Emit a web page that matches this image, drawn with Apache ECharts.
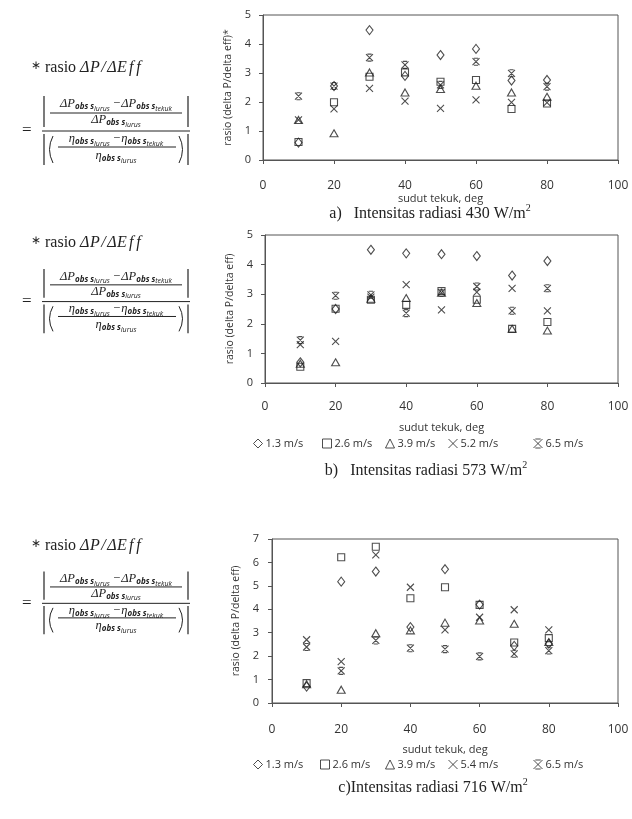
<!DOCTYPE html>
<html>
<head>
<meta charset="utf-8">
<script src="https://cdn.jsdelivr.net/npm/echarts@6/dist/echarts.min.js"></script>
<style>
html, body { margin: 0; padding: 0; background: #fff; }
#chart { width: 632px; height: 819px; }
</style>
</head>
<body>
<div id="chart"></div>
<script>
// bend angle (deg) on the x axis, same for all three panels
const angles = [10, 20, 30, 40, 50, 60, 70, 80]
const speedsAB = ['1.3 m/s', '2.6 m/s', '3.9 m/s', '5.2 m/s', '6.5 m/s']
const speedsC = ['1.3 m/s', '2.6 m/s', '3.9 m/s', '5.4 m/s', '6.5 m/s']
const yMaxA = 5
const yMaxB = 5
const yMaxC = 7

// a) 430 W/m2
const a13 = [0.6, 2.55, 4.48, 2.9, 3.62, 3.83, 2.74, 2.76]
const a26 = [0.62, 1.99, 2.87, 3.02, 2.7, 2.76, 1.76, 1.95]
const a39 = [1.38, 0.92, 3.02, 2.33, 2.45, 2.56, 2.33, 2.18]
const a52 = [1.38, 1.76, 2.47, 2.03, 1.78, 2.07, 1.99, 1.98]
const a65 = [2.2, 2.55, 3.53, 3.28, 2.59, 3.39, 2.99, 2.53]

// b) 573 W/m2
const b13 = [0.7, 2.5, 4.5, 4.38, 4.35, 4.29, 3.63, 4.12]
const b26 = [0.55, 2.51, 2.81, 2.64, 3.11, 2.81, 1.83, 2.06]
const b39 = [0.65, 0.7, 2.85, 2.87, 3.05, 2.7, 1.83, 1.77]
const b52 = [1.3, 1.41, 2.9, 3.32, 2.47, 3.07, 3.2, 2.44]
const b65 = [1.45, 2.95, 2.98, 2.36, 3.05, 3.26, 2.44, 3.2]

// c) 716 W/m2
const c13 = [0.7, 5.18, 5.61, 3.24, 5.71, 4.2, 2.44, 2.53]
const c26 = [0.85, 6.22, 6.67, 4.47, 4.94, 4.19, 2.58, 2.77]
const c39 = [0.8, 0.57, 2.98, 3.1, 3.43, 3.52, 3.38, 2.6]
const c54 = [2.7, 1.77, 6.32, 4.94, 3.12, 3.66, 3.98, 3.12]
const c65 = [2.39, 1.37, 2.67, 2.34, 2.3, 1.99, 2.1, 2.24]

const ink = '#222'
const markers = [
  { symbol: 'diamond', size: [7, 9] },
  { symbol: 'rect', size: [7, 7] },
  { symbol: 'triangle', size: [8, 7] },
  { symbol: 'path://M0,0L10,10M10,0L0,10', size: [7, 7] },
  { symbol: 'path://M0,0L10,10M10,0L0,10M2,0L8,0M2,10L8,10', size: [7, 7] }
]

function makeSeries(groups, names, gridIndex) {
  return groups.map((vals, i) => ({
    name: names[i],
    type: 'scatter',
    xAxisIndex: gridIndex,
    yAxisIndex: gridIndex,
    symbol: markers[i].symbol,
    symbolSize: markers[i].size,
    itemStyle: { color: 'transparent', borderColor: ink, borderWidth: 1.1 },
    data: angles.map((x, j) => [x, vals[j]])
  }))
}

// ---- text helpers for the formulas and captions ----
const measureCtx = document.createElement('canvas').getContext('2d')

function fontStr(p) {
  return (p.it ? 'italic ' : '') + (p.b ? 'bold ' : '') + p.s + 'px ' + p.ff
}

function runText(parts, x, y, align) {
  let w = 0
  parts.forEach(p => {
    measureCtx.font = fontStr(p)
    p.w = measureCtx.measureText(p.t).width
    w += p.w + (p.gap || 0)
  })
  let cx = align === 'center' ? x - w / 2 : x
  const out = []
  parts.forEach(p => {
    out.push({
      type: 'text',
      x: cx,
      y: y + (p.dy || 0),
      silent: true,
      style: {
        text: p.t,
        font: fontStr(p),
        fill: ink,
        textAlign: 'left',
        textVerticalAlign: 'middle'
      }
    })
    cx += p.w + (p.gap || 0)
  })
  return out
}

const SERIF = '"Liberation Serif"'
const SANS = '"Open Sans"'
const M = { s: 12.5, ff: SERIF, it: true }
const S = { s: 8, ff: SANS, it: true, b: true, dy: 3 }
const SS = { s: 7, ff: SANS, it: true, dy: 5 }

function sym(head, tail) {
  return [{ t: head, ...M }, { t: 'obs s', ...S }, { t: tail, ...SS }]
}

function hline(x1, x2, y) {
  return { type: 'line', silent: true, shape: { x1, y1: y, x2, y2: y }, style: { stroke: ink, lineWidth: 1 } }
}

function vline(x, y1, y2) {
  return { type: 'line', silent: true, shape: { x1: x, y1, x2: x, y2 }, style: { stroke: ink, lineWidth: 1.2 } }
}

function paren(x, y1, y2, dir) {
  return {
    type: 'bezierCurve', silent: true,
    shape: { x1: x, y1, x2: x, y2, cpx1: x - dir * 7, cpy1: (y1 + y2) / 2 },
    style: { stroke: ink, lineWidth: 1, fill: 'none' }
  }
}

function formulaBlock(y0, k) {
  const cx = 116
  const title = [
    { t: '\u2217', s: 12, ff: SERIF, dy: -2 },
    { t: ' rasio ', s: 16, ff: SERIF },
    { t: '\u0394', s: 16, ff: SERIF, it: true, gap: 0.5 },
    { t: 'P', s: 16, ff: SERIF, it: true, gap: 1.5 },
    { t: '/', s: 16, ff: SERIF, it: true, gap: 1.5 },
    { t: '\u0394', s: 16, ff: SERIF, it: true, gap: 0.5 },
    { t: 'E', s: 16, ff: SERIF, it: true, gap: 2 },
    { t: 'f', s: 16, ff: SERIF, it: true, gap: 3 },
    { t: 'f', s: 16, ff: SERIF, it: true }
  ]
  return [
    ...runText(title, 31, y0, 'left'),
    ...runText([{ t: '=', s: 17, ff: SERIF }], 22, y0 + 63 * k, 'left'),
    ...runText([...sym('\u0394P', 'lurus'), ...sym(' \u2212\u0394P', 'tekuk')], cx, y0 + 36 * k, 'center'),
    hline(50, 182, y0 + 45 * k),
    ...runText(sym('\u0394P', 'lurus'), cx, y0 + 52 * k, 'center'),
    vline(44, y0 + 28 * k, y0 + 59 * k),
    vline(188, y0 + 28 * k, y0 + 59 * k),
    hline(42, 190, y0 + 63 * k),
    ...runText([...sym('\u03B7', 'lurus'), ...sym(' \u2212\u03B7', 'tekuk')], cx, y0 + 71 * k, 'center'),
    hline(58, 176, y0 + 79 * k),
    ...runText(sym('\u03B7', 'lurus'), cx, y0 + 88 * k, 'center'),
    vline(44, y0 + 66 * k, y0 + 97 * k),
    vline(188, y0 + 66 * k, y0 + 97 * k),
    paren(53, y0 + 68 * k, y0 + 95 * k, 1),
    paren(179, y0 + 68 * k, y0 + 95 * k, -1)
  ]
}

function caption(label, text, x, y) {
  return runText([
    { t: label, s: 16, ff: SERIF },
    { t: text, s: 16, ff: SERIF },
    { t: '2', s: 10, ff: SERIF, dy: -6 }
  ], x, y, 'center')
}

// ---- axes ----
function xAxisFor(gridIndex, nameGap, margin) {
  return {
    gridIndex, type: 'value', min: 0, max: 100, interval: 20,
    name: 'sudut tekuk, deg', nameLocation: 'middle', nameGap,
    nameTextStyle: { fontFamily: SANS, fontSize: 11, color: '#333' },
    axisLine: { lineStyle: { color: '#555' } },
    axisTick: { show: true, length: 4, lineStyle: { color: '#555' } },
    splitLine: { show: false },
    axisLabel: { fontFamily: SANS, fontSize: 12, color: '#333', margin }
  }
}

function yAxisFor(gridIndex, max, name, nameGap, margin) {
  return {
    gridIndex, type: 'value', min: 0, max, interval: 1,
    name, nameLocation: 'middle', nameGap,
    nameTextStyle: { fontFamily: SANS, fontSize: 10.5, color: '#333' },
    axisLine: { show: true, lineStyle: { color: '#555' } },
    axisTick: { show: true, length: 4, lineStyle: { color: '#555' } },
    splitLine: { show: false },
    axisLabel: { fontFamily: SANS, fontSize: 11, color: '#333', margin }
  }
}

function legendsFor(names, lefts, top) {
  return names.map((n, i) => ({
    data: [n], left: lefts[i], top,
    itemWidth: 9, itemHeight: 9, itemGap: 0,
    itemStyle: { borderWidth: 1 },
    textStyle: { fontFamily: SANS, fontSize: 11, color: '#333', padding: [0, 0, 0, -2] }
  }))
}

const chart = echarts.init(document.getElementById('chart'), null, { renderer: 'canvas' })

chart.setOption({
  animation: false,
  backgroundColor: '#fff',
  grid: [
    { left: 263, top: 15, width: 355, height: 145, show: true, borderColor: '#555', borderWidth: 1 },
    { left: 265, top: 235, width: 353, height: 148, show: true, borderColor: '#555', borderWidth: 1 },
    { left: 272, top: 539, width: 346, height: 164, show: true, borderColor: '#555', borderWidth: 1 }
  ],
  xAxis: [xAxisFor(0, 26, 20), xAxisFor(1, 39, 18), xAxisFor(2, 41, 21)],
  yAxis: [
    yAxisFor(0, yMaxA, 'rasio (delta P/delta eff)*', 24, 12),
    yAxisFor(1, yMaxB, 'rasio (delta P/delta eff)', 22, 12),
    yAxisFor(2, yMaxC, 'rasio (delta P/delta eff)', 22, 13)
  ],
  legend: [
    ...legendsFor(speedsAB, [248, 317, 380, 443, 528], 433),
    ...legendsFor(speedsC, [248, 315, 380, 443, 528], 754)
  ],
  series: [
    ...makeSeries([a13, a26, a39, a52, a65], speedsAB, 0),
    ...makeSeries([b13, b26, b39, b52, b65], speedsAB, 1),
    ...makeSeries([c13, c26, c39, c54, c65], speedsC, 2)
  ],
  graphic: [
    ...formulaBlock(68, 1),
    ...formulaBlock(243, 0.93),
    ...formulaBlock(546, 0.91),
    ...caption('a)   ', 'Intensitas radiasi 430 W/m', 430, 214),
    ...caption('b)   ', 'Intensitas radiasi 573 W/m', 426, 471),
    ...caption('c)', 'Intensitas radiasi 716 W/m', 433, 788)
  ]
})
</script>
</body>
</html>
